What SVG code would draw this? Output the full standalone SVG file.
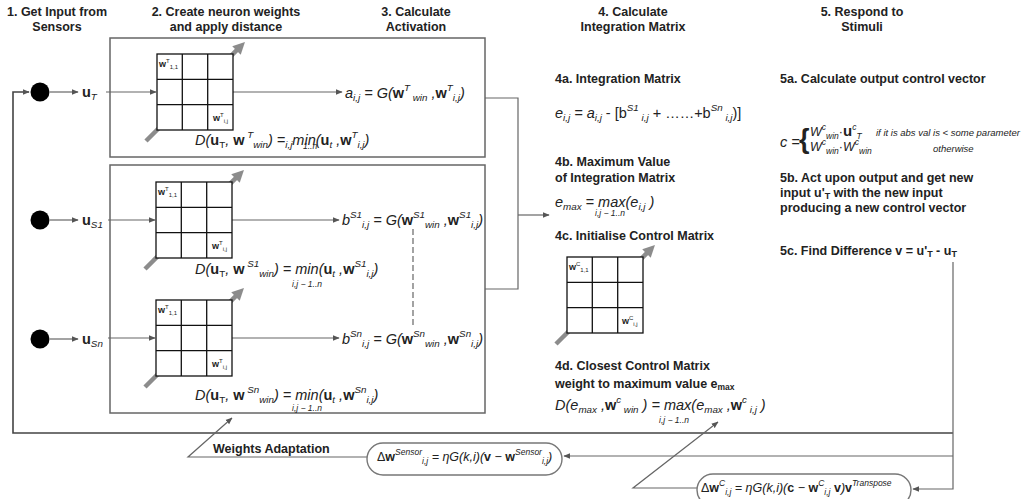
<svg xmlns="http://www.w3.org/2000/svg" width="1035" height="499" viewBox="0 0 1035 499">
<style>
text{font-family:"Liberation Sans",Arial,sans-serif;fill:#222}
.h{font-weight:bold;font-size:12.5px}
.hc{font-weight:bold;font-size:12.5px;text-anchor:middle}
.f{font-style:italic;font-size:14.5px}
.f2{font-style:italic;font-size:12.5px}
.v{font-style:normal;font-weight:bold}
.n{font-style:normal}
.s{font-size:9.8px}
.s2{font-size:8.5px}
.sm{font-style:italic;font-size:8.5px}
.ml{font-size:9px}
.mls{font-size:6px}
.note{font-style:italic;font-size:9.5px}
.frame{fill:none;stroke:#666;stroke-width:1.5}
.grid{fill:#fff;stroke:#111;stroke-width:1.3}
.gl{stroke:#111;stroke-width:1.3}
.ax{stroke:#8c8c8c;stroke-width:4.5;fill:none}
.c{fill:none;stroke:#666;stroke-width:1.2}
.loop{fill:none;stroke:#444;stroke-width:1.6}
.rb{fill:#fff;stroke:#777;stroke-width:1.4}
</style>
<defs>
<marker id="ah" viewBox="0 0 10 10" refX="9" refY="5" markerWidth="7" markerHeight="7" orient="auto" markerUnits="userSpaceOnUse"><path d="M0,1 L10,5 L0,9 z" fill="#555"/></marker>
<marker id="ga" viewBox="0 0 12 12" refX="4" refY="6" markerWidth="12" markerHeight="12" orient="auto" markerUnits="userSpaceOnUse"><path d="M0,0 L12,6 L0,12 z" fill="#8c8c8c"/></marker>
<g id="mat">
<rect class="grid" x="0" y="0" width="76" height="76"/>
<path class="gl" d="M25.3,0 V76 M50.7,0 V76 M0,25.3 H76 M0,50.7 H76"/>
</g>
</defs>

<g id="headings">
<text class="hc" x="57" y="16">1. Get Input from</text>
<text class="hc" x="57" y="31">Sensors</text>
<text class="hc" x="226" y="16">2. Create neuron weights</text>
<text class="hc" x="226" y="31">and apply distance</text>
<text class="hc" x="416" y="16">3. Calculate</text>
<text class="hc" x="416" y="31">Activation</text>
<text class="hc" x="633" y="16">4. Calculate</text>
<text class="hc" x="633" y="31">Integration Matrix</text>
<text class="hc" x="862" y="16">5. Respond to</text>
<text class="hc" x="862" y="31">Stimuli</text>
</g>

<g id="frame-target"><rect class="frame" x="110" y="38" width="375" height="119"/></g>
<g id="frame-sensors"><rect class="frame" x="110" y="165" width="375" height="248"/></g>

<g id="connectors">
<path class="loop" d="M953,433 H13 V92 H29" marker-end="url(#ah)"/>
<path class="c" d="M953,262 V489 H913" marker-end="url(#ah)"/>
<path class="c" d="M953,456 H564" marker-end="url(#ah)"/>
<path class="c" d="M50,92 H78" marker-end="url(#ah)"/>
<path class="c" d="M50,220 H78" marker-end="url(#ah)"/>
<path class="c" d="M50,339 H78" marker-end="url(#ah)"/>
<path class="c" d="M106,92 H156" marker-end="url(#ah)"/>
<path class="c" d="M108,220 H155" marker-end="url(#ah)"/>
<path class="c" d="M108,338 H155" marker-end="url(#ah)"/>
<path class="c" d="M233,92 H342" marker-end="url(#ah)"/>
<path class="c" d="M232,220 H339" marker-end="url(#ah)"/>
<path class="c" d="M232,338 H339" marker-end="url(#ah)"/>
<path class="c" d="M485,98 H518 V289 H485"/>
<path class="c" d="M518,215 H549" marker-end="url(#ah)"/>
<path class="c" d="M413,229 V327" stroke-dasharray="6,3"/>
<path class="c" d="M367,457 H188 L232,418" marker-end="url(#ah)"/>
<path class="c" d="M697,488 H633 L718,422" marker-end="url(#ah)"/>
</g>

<g id="sensor-T"><circle cx="40" cy="92" r="9.5" fill="#000"/>
<text class="f" x="82" y="97" font-size="15px"><tspan class="v">u</tspan><tspan class="s" y="100">T</tspan></text></g>
<g id="sensor-S1"><circle cx="40" cy="220" r="9.5" fill="#000"/>
<text class="f" x="82" y="225" font-size="15px"><tspan class="v">u</tspan><tspan class="s" y="228">S1</tspan></text></g>
<g id="sensor-Sn"><circle cx="40" cy="339" r="9.5" fill="#000"/>
<text class="f" x="82" y="344" font-size="15px"><tspan class="v">u</tspan><tspan class="s" y="347">Sn</tspan></text></g>

<g id="matrix-T">
<path class="ax" d="M146,141 L239.3,47.7" marker-end="url(#ga)"/>
<use href="#mat" x="157" y="54"/>
<text class="ml" x="159" y="67"><tspan class="v">w</tspan><tspan class="mls" y="63">T</tspan><tspan class="mls" y="69">1,1</tspan></text>
<text class="ml" x="213" y="121"><tspan class="v">w</tspan><tspan class="mls" y="117">T</tspan><tspan class="mls" y="123">i,j</tspan></text>
</g>
<g id="matrix-S1">
<path class="ax" d="M145,269 L238.3,175.7" marker-end="url(#ga)"/>
<use href="#mat" x="156" y="182"/>
<text class="ml" x="158" y="195"><tspan class="v">w</tspan><tspan class="mls" y="191">T</tspan><tspan class="mls" y="197">1,1</tspan></text>
<text class="ml" x="212" y="249"><tspan class="v">w</tspan><tspan class="mls" y="245">T</tspan><tspan class="mls" y="251">i,j</tspan></text>
</g>
<g id="matrix-Sn">
<path class="ax" d="M145,387 L238.3,293.7" marker-end="url(#ga)"/>
<use href="#mat" x="156" y="300"/>
<text class="ml" x="158" y="313"><tspan class="v">w</tspan><tspan class="mls" y="309">T</tspan><tspan class="mls" y="315">1,1</tspan></text>
<text class="ml" x="212" y="367"><tspan class="v">w</tspan><tspan class="mls" y="363">T</tspan><tspan class="mls" y="369">i,j</tspan></text>
</g>

<g id="act-T">
<text class="f" x="345" y="98">a<tspan class="s" y="101">i,j</tspan><tspan y="98"> = G(</tspan><tspan class="v">w</tspan><tspan class="s" y="91">T</tspan><tspan class="s" y="101"> win</tspan><tspan y="98"> ,</tspan><tspan class="v">w</tspan><tspan class="s" y="91">T</tspan><tspan class="s" y="101">i,j</tspan><tspan y="98">)</tspan></text>
<text class="f" x="195" y="145">D(<tspan class="v">u</tspan><tspan class="s n" y="148">T</tspan><tspan y="145">, </tspan><tspan class="v">w</tspan><tspan class="s" y="138"> T</tspan><tspan class="s" y="148">win</tspan><tspan y="145">) =</tspan><tspan class="s" y="148">i,j</tspan><tspan y="145">min(</tspan><tspan class="v">u</tspan><tspan class="s" y="148">t</tspan><tspan y="145"> ,</tspan><tspan class="v">w</tspan><tspan class="s" y="138">T</tspan><tspan class="s" y="148">i,j</tspan><tspan y="145">)</tspan></text>
<text class="sm" x="303" y="149">1..n</text>
</g>
<g id="act-S1">
<text class="f" x="342" y="225">b<tspan class="s" y="218">S1</tspan><tspan class="s" y="228">i,j</tspan><tspan y="225"> = G(</tspan><tspan class="v">w</tspan><tspan class="s" y="218">S1</tspan><tspan class="s" y="228">win</tspan><tspan y="225"> ,</tspan><tspan class="v">w</tspan><tspan class="s" y="218">S1</tspan><tspan class="s" y="228">i,j</tspan><tspan y="225">)</tspan></text>
<text class="f" x="195" y="274">D(<tspan class="v">u</tspan><tspan class="s n" y="277">T</tspan><tspan y="274">, </tspan><tspan class="v">w</tspan><tspan class="s" y="267"> S1</tspan><tspan class="s" y="277">win</tspan><tspan y="274">) = min(</tspan><tspan class="v">u</tspan><tspan class="s" y="277">t</tspan><tspan y="274"> ,</tspan><tspan class="v">w</tspan><tspan class="s" y="267">S1</tspan><tspan class="s" y="277">i,j</tspan><tspan y="274">)</tspan></text>
<text class="sm" x="292" y="287">i,j − 1..n</text>
</g>
<g id="act-Sn">
<text class="f" x="342" y="344">b<tspan class="s" y="337">Sn</tspan><tspan class="s" y="347">i,j</tspan><tspan y="344"> = G(</tspan><tspan class="v">w</tspan><tspan class="s" y="337">Sn</tspan><tspan class="s" y="347">win</tspan><tspan y="344"> ,</tspan><tspan class="v">w</tspan><tspan class="s" y="337">Sn</tspan><tspan class="s" y="347">i,j</tspan><tspan y="344">)</tspan></text>
<text class="f" x="195" y="400">D(<tspan class="v">u</tspan><tspan class="s n" y="403">T</tspan><tspan y="400">, </tspan><tspan class="v">w</tspan><tspan class="s" y="393"> Sn</tspan><tspan class="s" y="403">win</tspan><tspan y="400">) = min(</tspan><tspan class="v">u</tspan><tspan class="s" y="403">t</tspan><tspan y="400"> ,</tspan><tspan class="v">w</tspan><tspan class="s" y="393">Sn</tspan><tspan class="s" y="403">i,j</tspan><tspan y="400">)</tspan></text>
<text class="sm" x="292" y="411">i,j − 1..n</text>
</g>

<g id="integration">
<text class="h" x="555" y="83">4a. Integration Matrix</text>
<text class="f" x="555" y="118">e<tspan class="s" y="121">i,j</tspan><tspan y="118"> = a</tspan><tspan class="s" y="121">i,j</tspan><tspan class="n" y="118"> - [b</tspan><tspan class="s" y="111">S1</tspan><tspan class="s" y="121"> i,j</tspan><tspan class="n" y="118"> + ……+b</tspan><tspan class="s" y="111">Sn</tspan><tspan class="s" y="121"> i,j</tspan><tspan class="n" y="118">)]</tspan></text>
<text class="h" x="555" y="166">4b. Maximum Value</text>
<text class="h" x="555" y="182">of Integration Matrix</text>
<text class="f" x="555" y="207">e<tspan class="s" y="210">max</tspan><tspan y="207"> = max(e</tspan><tspan class="s" y="210">i,j</tspan><tspan y="207"> )</tspan></text>
<text class="sm" x="595" y="216">i,j − 1..n</text>
<text class="h" x="555" y="240">4c. Initialise Control Matrix</text>
</g>
<g id="matrix-C">
<path class="ax" d="M556,344 L649.3,250.7" marker-end="url(#ga)"/>
<use href="#mat" x="567" y="257"/>
<text class="ml" x="569" y="270"><tspan class="v">w</tspan><tspan class="mls" y="266">C</tspan><tspan class="mls" y="272">1,1</tspan></text>
<text class="ml" x="622" y="324"><tspan class="v">w</tspan><tspan class="mls" y="320">C</tspan><tspan class="mls" y="326">i,j</tspan></text>
</g>
<g id="closest">
<text class="h" x="555" y="370">4d. Closest Control Matrix</text>
<text class="h" x="555" y="388">weight to maximum value e<tspan font-size="8.5px" y="390">max</tspan></text>
<text class="f" x="555" y="410" font-size="15px">D(e<tspan class="s" y="413">max</tspan><tspan y="410"> ,</tspan><tspan class="v">w</tspan><tspan class="s" y="403">c</tspan><tspan class="s" y="413"> win</tspan><tspan y="410"> ) = max(e</tspan><tspan class="s" y="413">max</tspan><tspan y="410"> ,</tspan><tspan class="v">w</tspan><tspan class="s" y="403">c</tspan><tspan class="s" y="413"> i,j</tspan><tspan y="410"> )</tspan></text>
<text class="sm" x="659" y="423">i,j − 1..n</text>
</g>

<g id="respond">
<text class="h" x="780" y="83">5a. Calculate output control vector</text>
<text class="f" x="780" y="147" font-size="13px">c =</text>
<text x="799" y="148" font-size="27px" font-weight="bold">{</text>
<text class="f2" x="810" y="136">W<tspan class="s2" y="130">c</tspan><tspan class="s2" y="139">win</tspan><tspan class="n" y="136">·</tspan><tspan class="v" font-size="15px">u</tspan><tspan class="s2" y="130">c</tspan><tspan class="s2" font-size="10px" y="139">T</tspan></text>
<text class="f2" x="810" y="151">W<tspan class="s2" y="145">c</tspan><tspan class="s2" y="154">win</tspan><tspan class="n" y="151">·</tspan><tspan>W</tspan><tspan class="s2" y="145">c</tspan><tspan class="s2" y="154">win</tspan></text>
<text class="note" x="876" y="136">if it is abs val is &lt; some parameter</text>
<text class="note" x="933" y="152">otherwise</text>
<text class="h" x="780" y="182">5b. Act upon output and get new</text>
<text class="h" x="780" y="197">input u'<tspan font-size="9px" y="199">T</tspan><tspan y="197"> with the new input</tspan></text>
<text class="h" x="780" y="212">producing a new control vector</text>
<text class="h" x="780" y="255">5c. Find Difference v = u'<tspan font-size="9px" y="257">T</tspan><tspan y="255"> - u</tspan><tspan font-size="9px" y="257">T</tspan></text>
</g>

<g id="weights-adaptation">
<text class="h" x="213" y="453">Weights Adaptation</text>
<rect class="rb" x="367" y="443" width="195" height="32" rx="16"/>
<text class="f2" x="377" y="461"><tspan class="n">Δ</tspan><tspan class="v">w</tspan><tspan class="s2" y="455">Sensor</tspan><tspan class="s2" y="464">i,j</tspan><tspan y="461"> = ηG(k,i)(</tspan><tspan class="v">v</tspan><tspan> − </tspan><tspan class="v">w</tspan><tspan class="s2" y="455">Sensor</tspan><tspan class="s2" y="464">i,j</tspan><tspan y="461">)</tspan></text>
</g>
<g id="control-adaptation">
<rect class="rb" x="697" y="474" width="214" height="32" rx="16"/>
<text class="f2" x="701" y="492"><tspan class="n">Δ</tspan><tspan class="v">w</tspan><tspan class="s2" y="486">C</tspan><tspan class="s2" y="495">i,j</tspan><tspan y="492"> = ηG(k,i)(</tspan><tspan class="v">c</tspan><tspan> − </tspan><tspan class="v">w</tspan><tspan class="s2" y="486">C</tspan><tspan class="s2" y="495">i,j</tspan><tspan class="v" y="492"> v</tspan><tspan>)</tspan><tspan class="v">v</tspan><tspan class="s2" y="486">Transpose</tspan></text>
</g>
</svg>
